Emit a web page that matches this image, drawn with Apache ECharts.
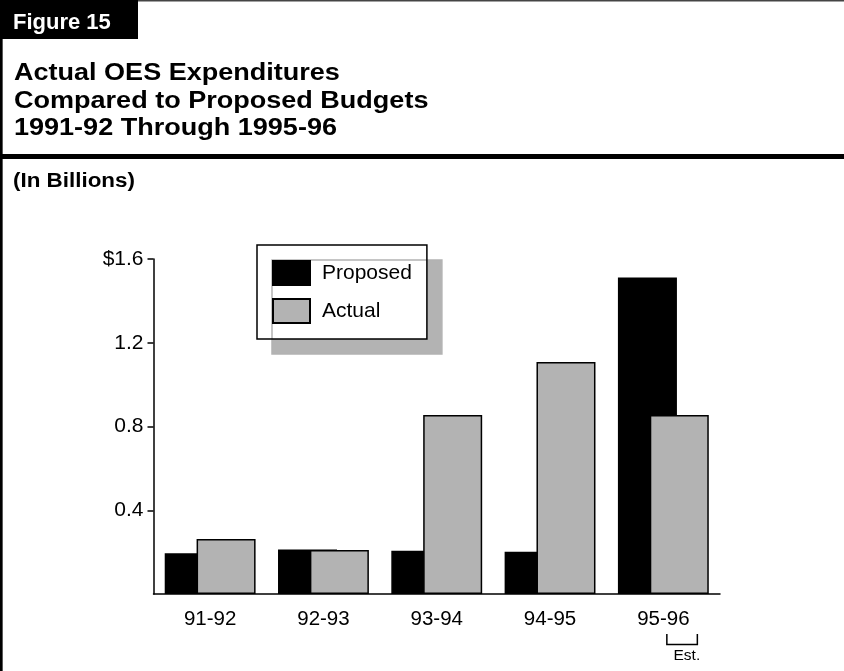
<!DOCTYPE html>
<html>
<head>
<meta charset="utf-8">
<script src="https://cdn.jsdelivr.net/npm/echarts@6/dist/echarts.min.js"></script>
<style>
  html, body { margin: 0; padding: 0; background: #fff; }
  #chart { width: 844px; height: 671px; }
</style>
</head>
<body>
<div id="chart"></div>
<script>
const categories = ['91-92', '92-93', '93-94', '94-95', '95-96'];
const proposed = [0.195, 0.212, 0.207, 0.202, 1.512];
const actual = [0.263, 0.21, 0.855, 1.108, 0.855];
const yTicks = [0.4, 0.8, 1.2, 1.6];
const titleLines = ['Actual OES Expenditures', 'Compared to Proposed Budgets', '1991-92 Through 1995-96'];
const figureLabel = 'Figure 15';
const unitLabel = '(In Billions)';
const estLabel = 'Est.';

const FONT = '"Liberation Sans", Arial, Helvetica, sans-serif';
const GRAY = '#b3b3b3';

const chart = echarts.init(document.getElementById('chart'), null, { renderer: 'canvas' });

const headerGraphics = [
  { type: 'line', shape: { x1: 138, y1: 0.75, x2: 844, y2: 0.75 }, style: { stroke: '#444', lineWidth: 1.5 } },
  { type: 'line', shape: { x1: 1.3, y1: 0, x2: 1.3, y2: 671 }, style: { stroke: '#000', lineWidth: 2.7 } },
  { type: 'rect', shape: { x: 0, y: 0, width: 138, height: 39 }, style: { fill: '#000' } },
  { type: 'text', x: 13, y: 23, style: { text: figureLabel, fill: '#fff', font: 'bold 22px ' + FONT, verticalAlign: 'middle', align: 'left' } },
  { type: 'line', shape: { x1: 0, y1: 156.5, x2: 844, y2: 156.5 }, style: { stroke: '#000', lineWidth: 5 } },
  { type: 'text', x: 13, y: 181, scaleX: 1.12, style: { text: unitLabel, fill: '#000', font: 'bold 20px ' + FONT, verticalAlign: 'middle', align: 'left' } }
];
titleLines.forEach(function (t, i) {
  headerGraphics.push({ type: 'text', x: 14, y: 73.5 + i * 27.7, scaleX: 1.15, style: { text: t, fill: '#000', font: 'bold 23.5px ' + FONT, verticalAlign: 'middle', align: 'left' } });
});

const option = {
  animation: false,
  backgroundColor: '#fff',
  textStyle: { fontFamily: FONT },
  grid: { left: 153.5, right: 124, top: 259, bottom: 77, containLabel: false },
  legend: {
    orient: 'vertical',
    left: 257,
    top: 245,
    padding: 15,
    itemWidth: 37,
    itemHeight: 24,
    itemGap: 12,
    backgroundColor: '#fff',
    borderColor: '#000',
    borderWidth: 1.5,
    shadowColor: GRAY,
    shadowBlur: 0,
    shadowOffsetX: 15,
    shadowOffsetY: 15,
    icon: 'rect',
    textStyle: { fontSize: 21, color: '#000', fontFamily: FONT, padding: [0, 0, 0, 7] },
    data: ['Proposed', 'Actual']
  },
  xAxis: {
    type: 'category',
    data: categories,
    axisLine: { lineStyle: { color: '#000', width: 1.5 } },
    axisTick: { show: false },
    axisLabel: { fontSize: 20.5, color: '#000', margin: 15, fontFamily: FONT },
    splitLine: { show: false }
  },
  yAxis: {
    type: 'value',
    min: 0,
    max: 1.6,
    interval: 0.4,
    axisLine: { show: true, lineStyle: { color: '#000', width: 1.5 } },
    axisTick: { show: true, length: 6, customValues: yTicks, lineStyle: { color: '#000', width: 1.5 } },
    axisLabel: {
      fontSize: 21, color: '#000', margin: 10, fontFamily: FONT,
      customValues: yTicks,
      formatter: function (v) { return (v === 1.6 ? '$' : '') + v.toFixed(1); }
    },
    splitLine: { show: false }
  },
  series: [
    {
      name: 'Proposed', type: 'bar', data: proposed, barWidth: 59, barGap: '-46%',
      itemStyle: { color: '#000', borderColor: '#000', borderWidth: 1.5 }
    },
    {
      name: 'Actual', type: 'bar', data: actual, barWidth: 59,
      itemStyle: { color: GRAY, borderColor: '#000', borderWidth: 1.5 }
    }
  ],
  graphic: headerGraphics
};
chart.setOption(option);

// "Est." bracket under the last category, positioned from the axis scales
const cx = chart.convertToPixel({ xAxisIndex: 0 }, categories[categories.length - 1]);
const y0 = chart.convertToPixel({ yAxisIndex: 0 }, 0);
chart.setOption({
  graphic: headerGraphics.concat([
    { type: 'polyline', shape: { points: [[cx + 3.5, y0 + 40], [cx + 3.5, y0 + 50.5], [cx + 34, y0 + 50.5], [cx + 34, y0 + 40]] }, style: { stroke: '#000', lineWidth: 1.5, fill: null } },
    { type: 'text', x: cx + 23.5, y: y0 + 62, style: { text: estLabel, fill: '#000', font: '15.5px ' + FONT, align: 'center', verticalAlign: 'middle' } }
  ])
});
</script>
</body>
</html>
